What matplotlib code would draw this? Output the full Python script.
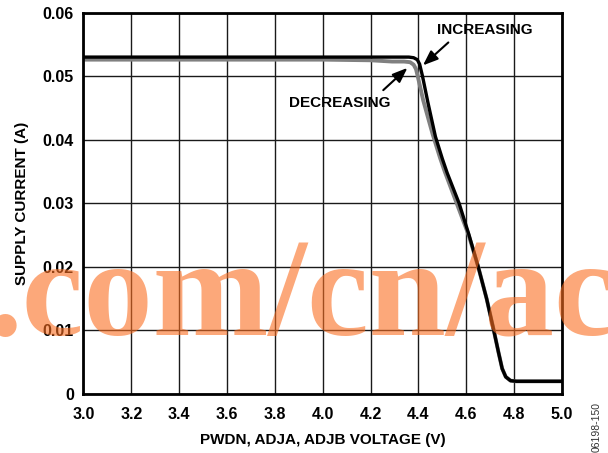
import matplotlib.pyplot as plt
import numpy as np

# supply current vs. voltage
v_inc = [3.0, 3.5, 4.0, 4.3, 4.36, 4.38, 4.395, 4.405, 4.417, 4.44, 4.471, 4.50, 4.52,
         4.57, 4.61, 4.65, 4.685, 4.715, 4.735, 4.75, 4.765, 4.785, 4.81, 5.0]
i_inc = [0.0530, 0.0530, 0.0530, 0.0530, 0.0530, 0.0529, 0.0526, 0.0519, 0.0500, 0.0458,
         0.0405, 0.0370, 0.0348, 0.0300, 0.0252, 0.0200, 0.0150, 0.0100, 0.0065, 0.0040,
         0.0027, 0.0021, 0.0020, 0.0020]

v_dec = [3.0, 3.5, 4.0, 4.2, 4.29, 4.34, 4.365, 4.38, 4.39, 4.397, 4.42, 4.46, 4.49, 4.51,
         4.56, 4.61, 4.65, 4.685, 4.715, 4.735, 4.75, 4.765, 4.785, 4.81, 5.0]
i_dec = [0.0526, 0.0526, 0.0526, 0.0525, 0.0523, 0.0523, 0.0522, 0.0518, 0.0511, 0.0500, 0.0462,
         0.0408, 0.0372, 0.0350, 0.0300, 0.0250, 0.0200, 0.0150, 0.0100, 0.0065, 0.0040,
         0.0027, 0.0021, 0.0020, 0.0020]

x_ticks = [3.0, 3.2, 3.4, 3.6, 3.8, 4.0, 4.2, 4.4, 4.6, 4.8, 5.0]
y_ticks = [0, 0.01, 0.02, 0.03, 0.04, 0.05, 0.06]
y_labels = ["0", "0.01", "0.02", "0.03", "0.04", "0.05", "0.06"]

plt.rcParams['font.family'] = ['Liberation Sans', 'DejaVu Sans']
plt.rcParams['font.weight'] = 'bold'

fig = plt.figure(figsize=(6.08, 4.53), dpi=100)
ax = fig.add_axes([0.1373, 0.1302, 0.787, 0.842])

ax.plot(v_dec, i_dec, color='#808080', lw=2.8, solid_capstyle='butt', zorder=3)
ax.plot(v_inc, i_inc, color='black', lw=2.4, solid_capstyle='butt', zorder=4)

ax.set_xlim(3.0, 5.0)
ax.set_ylim(0, 0.06)
ax.set_xticks(x_ticks)
ax.set_xticklabels([f"{v:.1f}" for v in x_ticks])
ax.set_yticks(y_ticks)
ax.set_yticklabels(y_labels)
ax.tick_params(length=0, labelsize=11.5)
ax.tick_params(axis='x', pad=9)
ax.tick_params(axis='y', pad=7)
for lab in ax.get_xticklabels() + ax.get_yticklabels():
    lab.set_fontweight('bold')
ax.grid(True, color='#1a1a1a', lw=1.0)
ax.set_axisbelow(True)
for s in ax.spines.values():
    s.set_linewidth(2.0)
    s.set_zorder(5)

ax.set_xlabel("PWDN, ADJA, ADJB VOLTAGE (V)", fontsize=11, fontweight='bold', labelpad=8)
ax.set_ylabel("SUPPLY CURRENT (A)", fontsize=11, fontweight='bold', labelpad=10)

arrow = dict(arrowstyle='-|>,head_length=0.9,head_width=0.35', color='black', lw=1.5,
             shrinkA=0, shrinkB=0)
ax.text(4.479, 0.0572, "INCREASING", fontsize=11, fontweight='bold', va='center', zorder=6)
ax.annotate("", xy=(4.419, 0.0517), xytext=(4.525, 0.0553), arrowprops=arrow, zorder=6)
ax.text(3.86, 0.0458, "DECREASING", fontsize=11, fontweight='bold', va='center', zorder=6)
ax.annotate("", xy=(4.354, 0.0513), xytext=(4.253, 0.0478), arrowprops=arrow, zorder=6)

# watermark
fig.text(-0.02, 0.26, ".com/cn/ac", fontsize=100, family='Liberation Serif',
         fontweight='bold', color='#FA6E21', alpha=0.6, va='baseline', ha='left', zorder=10)

fig.text(0.982, 0.003, "06198-150", fontsize=7.5, rotation=90, color='#333333',
         fontweight='normal', ha='center', va='bottom')

plt.savefig("out.png", dpi=100)
